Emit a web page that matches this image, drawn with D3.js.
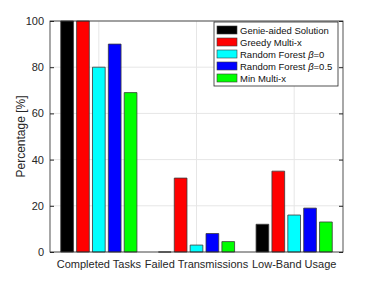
<!DOCTYPE html>
<html lang="en">
<head>
<meta charset="UTF-8">
<script src="https://cdn.jsdelivr.net/npm/d3@7"></script>
<style>
  body { margin: 0; background: #fff; }
  text { font-family: "Liberation Sans", Arial, sans-serif; }
</style>
</head>
<body>
<div id="chart"></div>
<script>
    const categories = ["Completed Tasks", "Failed Transmissions", "Low-Band Usage"];
    const seriesNames = ["Genie-aided Solution", "Greedy Multi-x", "Random Forest \u03b2=0", "Random Forest \u03b2=0.5", "Min Multi-x"];
    const seriesColors = ["#000000", "#ff0000", "#00ffff", "#0000ff", "#00ff00"];
    const genie = [100, 0, 12];
    const greedy = [100, 32, 35];
    const rf0 = [80, 3, 16];
    const rf05 = [90, 8, 19];
    const minMulti = [69, 4.5, 13];
    const yTicks = [0, 20, 40, 60, 80, 100];

    const series = [genie, greedy, rf0, rf05, minMulti];

    const width = 379, height = 284;
    const margin = {left: 50, right: 36, top: 21, bottom: 32};
    const w = width - margin.left - margin.right,
        h = height - margin.top - margin.bottom;

    const svg = d3.select("#chart").append("svg")
        .attr("width", width)
        .attr("height", height);

    const g = svg.append("g")
        .attr("transform", `translate(${margin.left},${margin.top})`);

    const x0 = d3.scaleBand()
        .domain(categories)
        .range([0, w])
        .paddingInner(0)
        .paddingOuter(0);

    const x1 = d3.scaleBand()
        .domain(d3.range(series.length))
        .range([x0.bandwidth() * 0.11, x0.bandwidth() * 0.89])
        .paddingInner(0.2);

    const y = d3.scaleLinear().domain([0, 100]).range([h, 0]);

    // grid
    g.selectAll("line.hgrid").data(yTicks).join("line")
        .attr("x1", 0).attr("x2", w)
        .attr("y1", d => y(d)).attr("y2", d => y(d))
        .attr("stroke", "#e6e6e6").attr("stroke-width", 1);
    g.selectAll("line.vgrid").data(categories).join("line")
        .attr("x1", d => x0(d) + x0.bandwidth() / 2).attr("x2", d => x0(d) + x0.bandwidth() / 2)
        .attr("y1", 0).attr("y2", h)
        .attr("stroke", "#e6e6e6").attr("stroke-width", 1);

    // bars (paths so a zero bar still shows its outline)
    series.forEach((vals, si) => {
        g.selectAll(null).data(vals).join("path")
            .attr("d", (d, i) => {
                const bx = x0(categories[i]) + x1(si);
                return `M${bx},${h}V${y(d)}h${x1.bandwidth()}V${h}Z`;
            })
            .attr("fill", seriesColors[si])
            .attr("stroke", "#3a3a3a")
            .attr("stroke-width", 0.8);
    });

    // axes
    const axisColor = "#262626";
    const yAxis = d3.axisLeft(y).tickValues(yTicks).tickSize(-4).tickPadding(6);
    const ga = g.append("g").call(yAxis);
    ga.select(".domain").remove();
    ga.selectAll(".tick line").attr("stroke", axisColor);
    ga.selectAll("text").attr("font-size", 11).attr("fill", axisColor);

    const yRight = d3.axisRight(y).tickValues(yTicks).tickSize(-4).tickFormat("");
    const gr = g.append("g").attr("transform", `translate(${w},0)`).call(yRight);
    gr.select(".domain").remove();
    gr.selectAll(".tick line").attr("stroke", axisColor);

    const xAxis = d3.axisBottom(x0).tickSize(0).tickPadding(8);
    const gx = g.append("g").attr("transform", `translate(0,${h})`).call(xAxis);
    gx.select(".domain").remove();
    gx.selectAll("text").attr("font-size", 11).attr("fill", axisColor);

    g.append("rect")
        .attr("width", w).attr("height", h)
        .attr("fill", "none").attr("stroke", axisColor).attr("stroke-width", 0.8);

    svg.append("text")
        .attr("transform", `translate(25,${margin.top + h / 2}) rotate(-90)`)
        .attr("text-anchor", "middle")
        .attr("font-size", 12)
        .attr("fill", axisColor)
        .text("Percentage [%]");

    // legend
    const lg = svg.append("g").attr("transform", "translate(214,22)");
    lg.append("rect").attr("width", 124).attr("height", 64)
        .attr("fill", "#fff").attr("stroke", "#262626").attr("stroke-width", 0.8);
    seriesNames.forEach((name, i) => {
        lg.append("rect")
            .attr("x", 3).attr("y", 4 + i * 12)
            .attr("width", 20).attr("height", 8)
            .attr("fill", seriesColors[i])
            .attr("stroke", "#3a3a3a").attr("stroke-width", 0.6);
        const t = lg.append("text")
            .attr("x", 26).attr("y", 11.5 + i * 12)
            .attr("font-size", 9.5)
            .attr("fill", "#111");
        const m = name.match(/^(.*?)(\u03b2)(.*)$/);
        if (m) {
            t.append("tspan").text(m[1]);
            t.append("tspan").attr("font-style", "italic").text(m[2]);
            t.append("tspan").text(m[3]);
        } else {
            t.text(name);
        }
    });
</script>
</body>
</html>
